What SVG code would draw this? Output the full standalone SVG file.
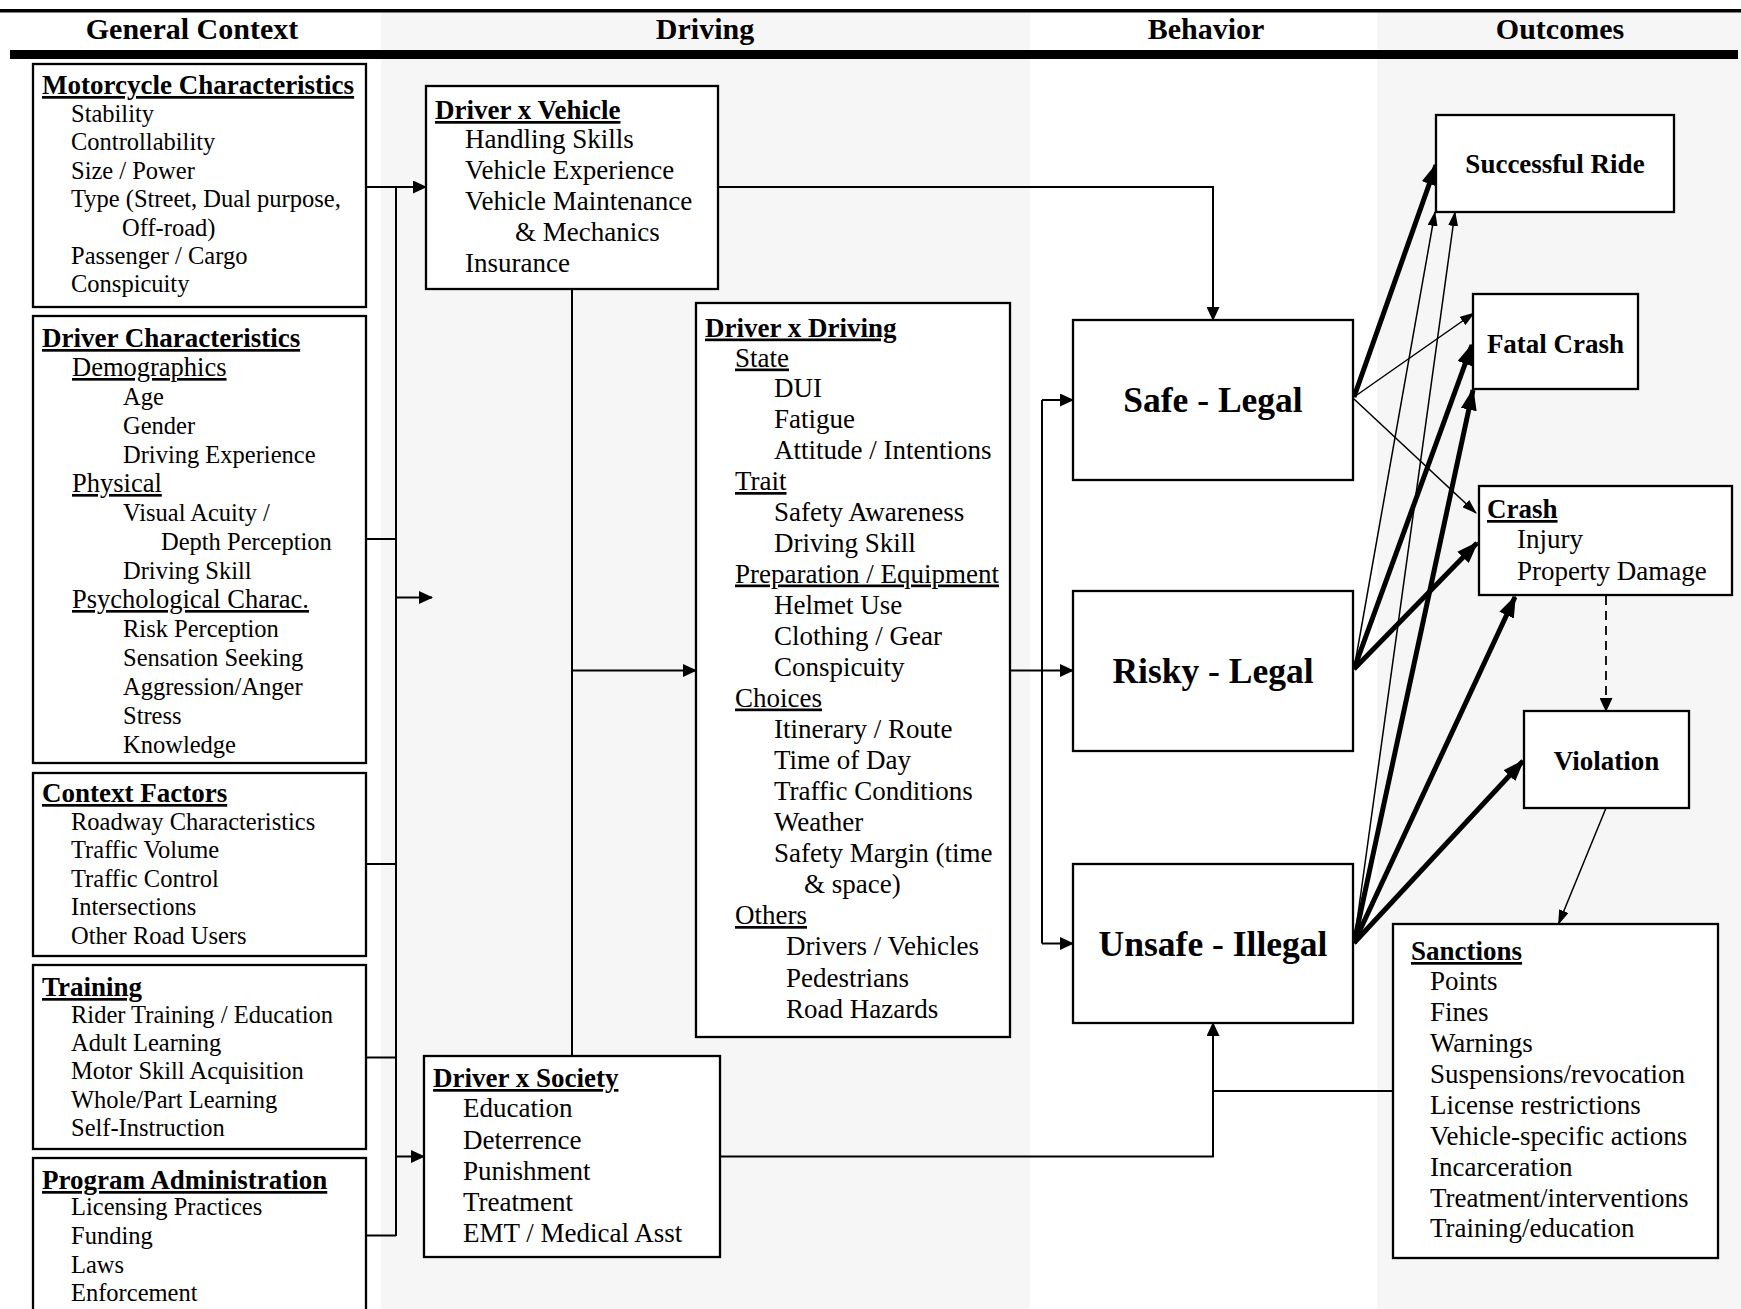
<svg xmlns="http://www.w3.org/2000/svg" width="1741" height="1309" viewBox="0 0 1741 1309">
  <defs>
    <style>
      text { font-family: "Liberation Serif", "Times New Roman", serif; fill: #000; }
      .hd { font-size: 30px; font-weight: bold; text-anchor: middle; }
      .ttl { font-size: 27px; font-weight: bold; text-decoration: underline; }
      .sm { font-size: 24.5px; }
      .sub { font-size: 26.5px; text-decoration: underline; }
      .it { font-size: 27px; }
      .itu { font-size: 27px; text-decoration: underline; }
      .big { font-size: 35.5px; font-weight: bold; text-anchor: middle; }
      .out { font-size: 27px; font-weight: bold; text-anchor: middle; }
      .box { fill: #fff; stroke: #000; stroke-width: 2.3; }
      .ln { fill: none; stroke: #000; stroke-width: 2; }
      .thin { fill: none; stroke: #000; stroke-width: 1.5; }
      .thick { fill: none; stroke: #000; stroke-width: 5; }
      .dash { fill: none; stroke: #000; stroke-width: 1.8; stroke-dasharray: 9 6; }
    </style>
    <marker id="ah" markerUnits="userSpaceOnUse" markerWidth="14" markerHeight="13" refX="13" refY="6.5" orient="auto">
      <path d="M0,0 L14,6.5 L0,13 z" fill="#000"/>
    </marker>
    <marker id="ahThin" markerUnits="userSpaceOnUse" markerWidth="15" markerHeight="10" refX="14" refY="5" orient="auto">
      <path d="M0,0 L15,5 L0,10 z" fill="#000"/>
    </marker>
    <marker id="ahBold" markerUnits="userSpaceOnUse" markerWidth="22" markerHeight="16" refX="20" refY="8" orient="auto">
      <path d="M0,0 L22,8 L0,16 z" fill="#000"/>
    </marker>
  </defs>

  <!-- page and column shading -->
  <rect x="0" y="0" width="1741" height="1309" fill="#fff"/>
  <rect x="381" y="11" width="649" height="1298" fill="#f6f6f6"/>
  <rect x="1377" y="11" width="364" height="1298" fill="#f6f6f6"/>

  <!-- header rules and column titles -->
  <rect x="0" y="9" width="1741" height="3.5" fill="#000"/>
  <rect x="10" y="50" width="1728" height="9" fill="#000"/>
  <g id="headers">
    <text class="hd" x="192" y="39">General Context</text>
    <text class="hd" x="705" y="39">Driving</text>
    <text class="hd" x="1206" y="39">Behavior</text>
    <text class="hd" x="1560" y="39">Outcomes</text>
  </g>

  <!-- connectors -->
  <g id="connectors">
    <line class="ln" x1="396" y1="187" x2="396" y2="1236"/>
    <line class="ln" x1="366" y1="187" x2="426" y2="187" marker-end="url(#ah)"/>
    <line class="ln" x1="366" y1="539" x2="396" y2="539"/>
    <line class="ln" x1="396" y1="597.5" x2="432" y2="597.5" marker-end="url(#ah)"/>
    <line class="ln" x1="366" y1="864" x2="396" y2="864"/>
    <line class="ln" x1="366" y1="1057.5" x2="396" y2="1057.5"/>
    <line class="ln" x1="396" y1="1156.5" x2="424" y2="1156.5" marker-end="url(#ah)"/>
    <line class="ln" x1="366" y1="1235.5" x2="396" y2="1235.5"/>

    <polyline class="ln" points="718,187 1213,187 1213,320" marker-end="url(#ah)"/>
    <line class="ln" x1="572" y1="289" x2="572" y2="1056"/>
    <line class="ln" x1="572" y1="670.5" x2="696" y2="670.5" marker-end="url(#ah)"/>

    <line class="ln" x1="1010" y1="670.5" x2="1073" y2="670.5" marker-end="url(#ah)"/>
    <line class="ln" x1="1042" y1="400" x2="1042" y2="943.5"/>
    <line class="ln" x1="1042" y1="400" x2="1073" y2="400" marker-end="url(#ah)"/>
    <line class="ln" x1="1042" y1="943.5" x2="1073" y2="943.5" marker-end="url(#ah)"/>

    <polyline class="ln" points="720,1156.5 1213,1156.5 1213,1023" marker-end="url(#ah)"/>
    <line class="ln" x1="1393" y1="1091" x2="1213" y2="1091"/>

    <line class="dash" x1="1606" y1="596" x2="1606" y2="711" marker-end="url(#ah)"/>
    <line class="thin" x1="1606" y1="808" x2="1558.5" y2="924" marker-end="url(#ahThin)"/>

    <!-- behaviour to outcome links -->
    <line class="thick" x1="1354" y1="397" x2="1436" y2="165" marker-end="url(#ahBold)"/>
    <line class="thin" x1="1354" y1="397" x2="1474" y2="313" marker-end="url(#ahThin)"/>
    <line class="thin" x1="1354" y1="399" x2="1476" y2="513" marker-end="url(#ahThin)"/>

    <line class="thin" x1="1354" y1="669" x2="1435" y2="212" marker-end="url(#ahThin)"/>
    <line class="thick" x1="1354" y1="669" x2="1472" y2="345" marker-end="url(#ahBold)"/>
    <line class="thick" x1="1354" y1="669" x2="1477" y2="543" marker-end="url(#ahBold)"/>

    <line class="thin" x1="1354" y1="943" x2="1455" y2="212" marker-end="url(#ahThin)"/>
    <line class="thick" x1="1354" y1="943" x2="1473" y2="390" marker-end="url(#ahBold)"/>
    <line class="thick" x1="1354" y1="943" x2="1515" y2="597" marker-end="url(#ahBold)"/>
    <line class="thick" x1="1354" y1="943" x2="1523" y2="761" marker-end="url(#ahBold)"/>
  </g>

  <!-- general context -->
  <g id="motorcycle">
    <rect class="box" x="33" y="64" width="333" height="243"/>
    <text class="ttl" x="42" y="94">Motorcycle Characteristics</text>
    <text class="sm" x="71" y="121.5">Stability</text>
    <text class="sm" x="71" y="150">Controllability</text>
    <text class="sm" x="71" y="178.5">Size / Power</text>
    <text class="sm" x="71" y="207">Type (Street, Dual purpose,</text>
    <text class="sm" x="122" y="235.5">Off-road)</text>
    <text class="sm" x="71" y="264">Passenger / Cargo</text>
    <text class="sm" x="71" y="292">Conspicuity</text>
  </g>

  <g id="driver-characteristics">
    <rect class="box" x="33" y="316" width="333" height="447"/>
    <text class="ttl" x="42" y="347">Driver Characteristics</text>
    <text class="sub" x="72" y="376">Demographics</text>
    <text class="sm" x="123" y="405">Age</text>
    <text class="sm" x="123" y="434">Gender</text>
    <text class="sm" x="123" y="463">Driving Experience</text>
    <text class="sub" x="72" y="492">Physical</text>
    <text class="sm" x="123" y="521">Visual Acuity /</text>
    <text class="sm" x="161" y="550">Depth Perception</text>
    <text class="sm" x="123" y="579">Driving Skill</text>
    <text class="sub" x="72" y="608">Psychological Charac.</text>
    <text class="sm" x="123" y="637">Risk Perception</text>
    <text class="sm" x="123" y="666">Sensation Seeking</text>
    <text class="sm" x="123" y="695">Aggression/Anger</text>
    <text class="sm" x="123" y="724">Stress</text>
    <text class="sm" x="123" y="753">Knowledge</text>
  </g>

  <g id="context-factors">
    <rect class="box" x="33" y="773" width="333" height="183"/>
    <text class="ttl" x="42" y="802">Context Factors</text>
    <text class="sm" x="71" y="830">Roadway Characteristics</text>
    <text class="sm" x="71" y="858">Traffic Volume</text>
    <text class="sm" x="71" y="887">Traffic Control</text>
    <text class="sm" x="71" y="915">Intersections</text>
    <text class="sm" x="71" y="944">Other Road Users</text>
  </g>

  <g id="training">
    <rect class="box" x="33" y="965" width="333" height="184"/>
    <text class="ttl" x="42" y="996">Training</text>
    <text class="sm" x="71" y="1023">Rider Training / Education</text>
    <text class="sm" x="71" y="1051">Adult Learning</text>
    <text class="sm" x="71" y="1079">Motor Skill Acquisition</text>
    <text class="sm" x="71" y="1108">Whole/Part Learning</text>
    <text class="sm" x="71" y="1136">Self-Instruction</text>
  </g>

  <g id="program-administration">
    <rect class="box" x="33" y="1158" width="333" height="200"/>
    <text class="ttl" x="42" y="1189">Program Administration</text>
    <text class="sm" x="71" y="1215">Licensing Practices</text>
    <text class="sm" x="71" y="1244">Funding</text>
    <text class="sm" x="71" y="1273">Laws</text>
    <text class="sm" x="71" y="1301">Enforcement</text>
  </g>

  <!-- driving -->
  <g id="driver-vehicle">
    <rect class="box" x="426" y="86" width="292" height="203"/>
    <text class="ttl" x="435" y="119">Driver x Vehicle</text>
    <text class="it" x="465" y="148">Handling Skills</text>
    <text class="it" x="465" y="179">Vehicle Experience</text>
    <text class="it" x="465" y="210">Vehicle Maintenance</text>
    <text class="it" x="515" y="241">&amp; Mechanics</text>
    <text class="it" x="465" y="272">Insurance</text>
  </g>

  <g id="driver-driving">
    <rect class="box" x="696" y="303" width="314" height="734"/>
    <text class="ttl" x="705" y="336.5">Driver x Driving</text>
    <text class="itu" x="735" y="366.5">State</text>
    <text class="it" x="774" y="397">DUI</text>
    <text class="it" x="774" y="428">Fatigue</text>
    <text class="it" x="774" y="459">Attitude / Intentions</text>
    <text class="itu" x="735" y="490">Trait</text>
    <text class="it" x="774" y="521">Safety Awareness</text>
    <text class="it" x="774" y="552">Driving Skill</text>
    <text class="itu" x="735" y="582.5">Preparation / Equipment</text>
    <text class="it" x="774" y="613.5">Helmet Use</text>
    <text class="it" x="774" y="644.5">Clothing / Gear</text>
    <text class="it" x="774" y="675.5">Conspicuity</text>
    <text class="itu" x="735" y="706.5">Choices</text>
    <text class="it" x="774" y="737.5">Itinerary / Route</text>
    <text class="it" x="774" y="768.5">Time of Day</text>
    <text class="it" x="774" y="800">Traffic Conditions</text>
    <text class="it" x="774" y="831">Weather</text>
    <text class="it" x="774" y="862">Safety Margin (time</text>
    <text class="it" x="804" y="893">&amp; space)</text>
    <text class="itu" x="735" y="924">Others</text>
    <text class="it" x="786" y="955">Drivers / Vehicles</text>
    <text class="it" x="786" y="986.5">Pedestrians</text>
    <text class="it" x="786" y="1017.5">Road Hazards</text>
  </g>

  <g id="driver-society">
    <rect class="box" x="424" y="1056" width="296" height="201"/>
    <text class="ttl" x="433" y="1087">Driver x Society</text>
    <text class="it" x="463" y="1117">Education</text>
    <text class="it" x="463" y="1148.5">Deterrence</text>
    <text class="it" x="463" y="1179.5">Punishment</text>
    <text class="it" x="463" y="1211">Treatment</text>
    <text class="it" x="463" y="1241.5">EMT / Medical Asst</text>
  </g>

  <!-- behaviour -->
  <g id="safe-legal">
    <rect class="box" x="1073" y="320" width="280" height="160"/>
    <text class="big" x="1213" y="412">Safe - Legal</text>
  </g>
  <g id="risky-legal">
    <rect class="box" x="1073" y="591" width="280" height="160"/>
    <text class="big" x="1213" y="683">Risky - Legal</text>
  </g>
  <g id="unsafe-illegal">
    <rect class="box" x="1073" y="864" width="280" height="159"/>
    <text class="big" x="1213" y="956">Unsafe - Illegal</text>
  </g>

  <!-- outcomes -->
  <g id="successful-ride">
    <rect class="box" x="1436" y="115" width="238" height="97"/>
    <text class="out" x="1555" y="172.5">Successful Ride</text>
  </g>
  <g id="fatal-crash">
    <rect class="box" x="1473" y="294" width="165" height="95"/>
    <text class="out" x="1555.5" y="352.5">Fatal Crash</text>
  </g>
  <g id="crash">
    <rect class="box" x="1479" y="486" width="253" height="109"/>
    <text class="ttl" x="1487" y="518">Crash</text>
    <text class="it" x="1517" y="548">Injury</text>
    <text class="it" x="1517" y="580">Property Damage</text>
  </g>
  <g id="violation">
    <rect class="box" x="1524" y="711" width="165" height="97"/>
    <text class="out" x="1606.5" y="770">Violation</text>
  </g>
  <g id="sanctions">
    <rect class="box" x="1393" y="924" width="325" height="334"/>
    <text class="ttl" x="1411" y="960">Sanctions</text>
    <text class="it" x="1430" y="990">Points</text>
    <text class="it" x="1430" y="1021">Fines</text>
    <text class="it" x="1430" y="1052">Warnings</text>
    <text class="it" x="1430" y="1083">Suspensions/revocation</text>
    <text class="it" x="1430" y="1114">License restrictions</text>
    <text class="it" x="1430" y="1144.5">Vehicle-specific actions</text>
    <text class="it" x="1430" y="1175.5">Incarceration</text>
    <text class="it" x="1430" y="1206.5">Treatment/interventions</text>
    <text class="it" x="1430" y="1237">Training/education</text>
  </g>
</svg>
